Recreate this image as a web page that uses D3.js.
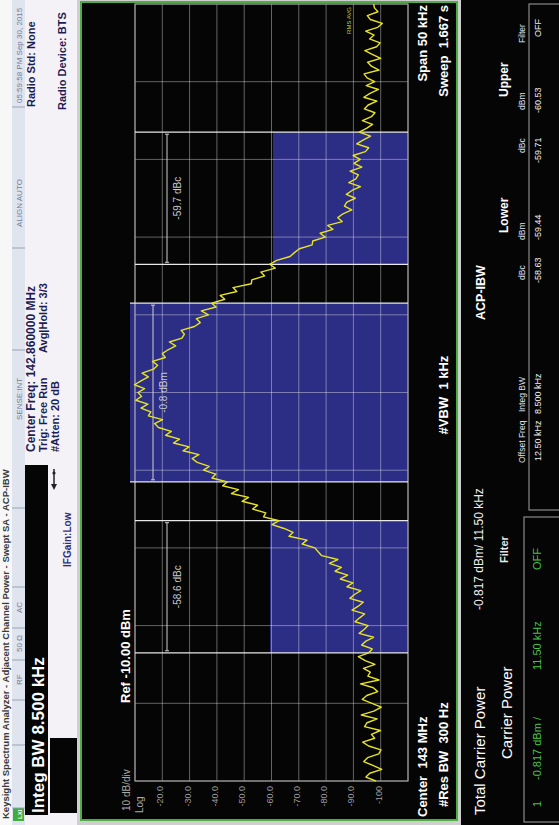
<!DOCTYPE html>
<html>
<head>
<meta charset="utf-8">
<script src="https://cdn.jsdelivr.net/npm/d3@7"></script>
<style>
  body { margin: 0; background: #cfcfcf; }
  svg { display: block; }
  text { font-family: "Liberation Sans", Arial, sans-serif; white-space: pre; }
</style>
</head>
<body>
<svg id="chart"></svg>
<script>
// sweep: 201 points over a 50 kHz span, offsets in kHz from centre
var spanStart = -25;
var spanStep = 0.25;
var traceLevels = [
  -98.2, -94.6, -96.0, -100.4, -97.1, -93.8, -95.2, -99.3, -100.1, -95.6,
  -93.4, -97.8, -96.6, -99.9, -94.1, -95.0, -98.7, -92.9, -97.5, -100.2,
  -96.8, -93.2, -94.9, -98.9, -97.3, -92.6, -99.4, -95.3, -96.2, -93.7,
  -97.9, -94.3, -91.8, -95.6, -96.9, -93.0, -94.6, -97.4, -92.1, -93.9,
  -95.4, -90.6, -92.3, -94.1, -89.5, -91.8, -93.6, -88.7, -90.4, -92.7,
  -87.6, -89.8, -85.2, -87.9, -83.3, -85.6, -81.2, -84.3, -78.4, -77.1,
  -75.9, -71.2, -73.0, -66.4, -67.9, -64.6, -60.2, -62.8, -57.1, -57.9,
  -53.1, -54.9, -49.2, -51.6, -45.3, -47.9, -42.1, -43.8, -38.2, -39.6,
  -35.1, -37.2, -32.8, -30.9, -33.4, -27.6, -29.8, -24.1, -26.3, -21.2,
  -23.3, -18.6, -17.2, -20.1, -14.9, -15.8, -12.2, -14.7, -10.3, -12.4,
  -11.1, -13.5, -9.8, -12.2, -14.9, -12.6, -16.8, -18.3, -16.4, -21.1,
  -20.0, -22.1, -24.9, -22.6, -27.2, -28.1, -26.9, -31.8, -33.9, -32.5,
  -36.9, -34.3, -39.7, -38.1, -42.9, -41.2, -47.3, -45.9, -52.6, -52.8,
  -57.5, -56.1, -61.4, -59.3, -61.9, -66.8, -68.4, -70.2, -74.9, -75.1,
  -79.7, -77.8, -82.5, -80.6, -85.9, -84.3, -86.2, -89.4, -86.7, -87.6,
  -90.7, -87.4, -89.5, -92.6, -88.3, -90.9, -91.8, -88.8, -93.1, -90.2,
  -92.5, -89.9, -94.4, -95.6, -91.2, -93.7, -96.3, -92.1, -94.8, -97.0,
  -93.3, -96.6, -97.9, -94.0, -95.4, -98.6, -93.8, -96.1, -99.2, -94.7,
  -97.8, -95.0, -93.9, -99.4, -96.6, -95.2, -100.0, -97.1, -94.2, -98.5,
  -99.8, -95.9, -97.6, -94.5, -98.9, -100.6, -96.2, -95.1, -99.0, -97.7,
  -97.4
];

// ACP integration bands
var bandCenters = [-12.5, 0, 12.5];
var bandWidths = [8.5, 11.5, 8.5];
var bandLevels = [-59.44, -0.817, -60.53];
var bandLabels = ['-58.6 dBc', '-0.8 dBm', '-59.7 dBc'];

var yTickValues = [-20, -30, -40, -50, -60, -70, -80, -90, -100];
var yTickLabels = ['-20.0', '-30.0', '-40.0', '-50.0', '-60.0', '-70.0', '-80.0', '-90.0', '-100'];

var statusCells = ['RF', '50 \u03a9', 'AC', 'SENSE:INT', 'ALIGN AUTO', '05:59:58 PM Sep 30, 2015'];

var tableHeaders = ['Offset Freq', 'Integ BW', 'dBc', 'dBm', 'dBc', 'dBm', 'Filter'];
var tableValues = ['12.50 kHz', '8.500 kHz', '-58.63', '-59.44', '-59.71', '-60.53', 'OFF'];

var svg, g;

document.addEventListener('DOMContentLoaded', function() {
  svg = d3.select('#chart').attr('width', 559).attr('height', 825);
  // the instrument screen is drawn upright (825 x 559) then turned a quarter left
  g = svg.append('g').attr('transform', 'translate(0,825) rotate(-90)');
  drawHeader();
  drawDisplay();
  drawTable();
});

function addText(parent, x, y, str, size, color, weight, anchor) {
  return parent.append('text')
    .attr('x', x)
    .attr('y', y)
    .attr('font-size', size + 'px')
    .attr('font-weight', weight || 'normal')
    .attr('text-anchor', anchor || 'start')
    .attr('fill', color)
    .text(str);
}

function drawHeader() {
  g.append('rect').attr('x', 0).attr('y', 0).attr('width', 825).attr('height', 12).attr('fill', '#f7f7f7');
  // window title strip
  addText(g, 6, 9, 'Keysight Spectrum Analyzer - Adjacent Channel Power - Swept SA - ACP-IBW', 9.5, '#3a3a3a', 'bold');

  g.append('rect').attr('x', 0).attr('y', 12).attr('width', 825).attr('height', 13).attr('fill', '#dfe4ee');
  g.append('rect').attr('x', 4).attr('y', 13).attr('width', 13).attr('height', 11).attr('fill', '#3fae3f');
  addText(g, 6, 22, 'LXI', 6, '#fff', 'bold');
  var seps = [17, 80, 125, 165, 197, 238, 317, 475, 577, 718];
  g.selectAll('.sep').data(seps).enter().append('line')
    .attr('x1', function(d) { return d; }).attr('x2', function(d) { return d; })
    .attr('y1', 12).attr('y2', 25)
    .attr('stroke', '#9aa3b5').attr('stroke-width', 1);
  var cellX = [140, 173, 212, 405, 598, 722];
  statusCells.forEach(function(s, i) {
    addText(g, cellX[i], 22, s, 8, '#6f7d9a');
  });

  g.append('rect').attr('x', 0).attr('y', 25).attr('width', 825).attr('height', 52).attr('fill', '#f4f2f7');
  g.append('rect').attr('x', 10).attr('y', 25).attr('width', 350).attr('height', 23).attr('fill', '#050505');
  addText(g, 12, 44, 'Integ BW 8.500 kHz', 17, '#fff', 'bold');
  g.append('rect').attr('x', 12).attr('y', 50).attr('width', 75).attr('height', 27).attr('fill', '#050505');
  addText(g, 258, 71, 'IFGain:Low', 10, '#33307a', 'bold');
  // small arrow glyph
  g.append('line').attr('x1', 337).attr('x2', 356).attr('y1', 54).attr('y2', 54).attr('stroke', '#222').attr('stroke-width', 1.5);
  g.append('path').attr('d', 'M335,54 L341,51 L341,57 Z').attr('fill', '#222');
  g.append('circle').attr('cx', 352).attr('cy', 54).attr('r', 1.6).attr('fill', '#222');

  var navy = '#1d1d55';
  addText(g, 373, 35, 'Center Freq: 142.860000 MHz', 12, navy, 'bold');
  addText(g, 373, 47, 'Trig: Free Run', 11, navy, 'bold');
  addText(g, 472, 47, 'Avg|Hold: 3/3', 11, navy, 'bold');
  addText(g, 373, 59, '#Atten: 20 dB', 11, navy, 'bold');
  addText(g, 718, 35, 'Radio Std: None', 11, navy, 'bold');
  addText(g, 715, 66, 'Radio Device: BTS', 11, navy, 'bold');
}

function drawDisplay() {
  g.append('rect').attr('x', 5).attr('y', 81).attr('width', 818).attr('height', 376)
    .attr('fill', '#050505').attr('stroke', '#4dae46').attr('stroke-width', 2);

  var x = d3.scaleLinear().domain([-25, 25]).range([44, 821]);
  var y = d3.scaleLinear().domain([-110, -10]).range([408, 135]);
  var gratTop = y(-10);

  // integration bands
  var bands = g.append('g');
  bandCenters.forEach(function(c, i) {
    var x0 = x(c - bandWidths[i] / 2);
    var x1 = x(c + bandWidths[i] / 2);
    var top = Math.max(y(bandLevels[i]), gratTop - 5);
    bands.append('rect')
      .attr('x', x0).attr('y', top)
      .attr('width', x1 - x0).attr('height', y(-110) - top)
      .attr('fill', '#2c2d84');
  });

  // graticule
  var grid = g.append('g');
  grid.selectAll('.vg').data(d3.range(-25, 25.1, 5)).enter().append('line')
    .attr('x1', function(d) { return x(d); }).attr('x2', function(d) { return x(d); })
    .attr('y1', gratTop).attr('y2', y(-110))
    .attr('stroke', '#fff').attr('stroke-opacity', 0.38).attr('stroke-width', 1);
  grid.selectAll('.hg').data(d3.range(-110, -9, 10)).enter().append('line')
    .attr('x1', x(-25)).attr('x2', x(25))
    .attr('y1', function(d) { return y(d); }).attr('y2', function(d) { return y(d); })
    .attr('stroke', '#fff').attr('stroke-opacity', 0.38).attr('stroke-width', 1);
  grid.append('rect').attr('x', x(-25)).attr('y', gratTop)
    .attr('width', x(25) - x(-25)).attr('height', y(-110) - gratTop)
    .attr('fill', 'none').attr('stroke', '#9a9a9a').attr('stroke-width', 1.2);

  // band edges, brackets and readouts
  bandCenters.forEach(function(c, i) {
    var x0 = x(c - bandWidths[i] / 2);
    var x1 = x(c + bandWidths[i] / 2);
    var top = Math.min(Math.max(y(bandLevels[i]), gratTop - 5), gratTop);
    [x0, x1].forEach(function(e) {
      g.append('line').attr('x1', e).attr('x2', e).attr('y1', top).attr('y2', y(-110))
        .attr('stroke', '#e8e8e8').attr('stroke-width', 1.3);
    });
    var by = i === 1 ? 153 : 167;
    g.append('line').attr('x1', x0 + 2).attr('x2', x1 - 2).attr('y1', by).attr('y2', by)
      .attr('stroke', '#d0d0d0').attr('stroke-width', 1);
    [x0 + 2, x1 - 2].forEach(function(e) {
      g.append('line').attr('x1', e).attr('x2', e).attr('y1', by - 2).attr('y2', by + 2)
        .attr('stroke', '#d0d0d0').attr('stroke-width', 1);
    });
    addText(g, x(c), by + 14, bandLabels[i], 10, '#c8c8c8', 'normal', 'middle');
  });

  // trace
  var line = d3.line()
    .x(function(d, i) { return x(spanStart + i * spanStep); })
    .y(function(d) { return y(d); });
  g.append('path').datum(traceLevels)
    .attr('d', line)
    .attr('fill', 'none')
    .attr('stroke', '#e6e423')
    .attr('stroke-width', 1.4)
    .attr('stroke-linejoin', 'round');
  addText(g, 818, 351, 'RMS AVG', 6, '#c9c83a', 'normal', 'end');

  // level axis
  yTickValues.forEach(function(v, i) {
    addText(g, 39, y(v) + 1, yTickLabels[i], 9, '#9c9c9c', 'normal', 'end');
  });
  addText(g, 14, 130, '10 dB/div', 10, '#a8a8a8');
  addText(g, 12, 143, 'Log', 10, '#a8a8a8');
  addText(g, 122, 130, 'Ref -10.00 dBm', 13, '#fff', 'bold');

  addText(g, 8, 427, 'Center  143 MHz', 13, '#fff', 'bold');
  addText(g, 18, 448, '#Res BW  300 Hz', 13, '#fff', 'bold');
  addText(g, 430, 448, '#VBW  1 kHz', 13, '#fff', 'bold', 'middle');
  addText(g, 820, 427, 'Span 50 kHz', 13, '#fff', 'bold', 'end');
  addText(g, 820, 448, 'Sweep  1.667 s', 13, '#fff', 'bold', 'end');
}

function drawTable() {
  g.append('rect').attr('x', 0).attr('y', 461).attr('width', 825).attr('height', 98).attr('fill', '#050505');
  addText(g, 10, 485, 'Total Carrier Power', 15, '#fff');
  addText(g, 215, 483, '-0.817 dBm/ 11.50 kHz', 12, '#f0f0f0');
  addText(g, 505, 485, 'ACP-IBW', 12.5, '#fff', 'bold');
  addText(g, 66, 512, 'Carrier Power', 15, '#fff');
  addText(g, 262, 508, 'Filter', 11, '#e8e8e8', 'bold');
  addText(g, 592, 508, 'Lower', 12, '#fff', 'bold');
  addText(g, 728, 508, 'Upper', 12, '#fff', 'bold');

  g.append('rect').attr('x', 3).attr('y', 524).attr('width', 305).attr('height', 45)
    .attr('fill', 'none').attr('stroke', '#8a8a8a').attr('stroke-width', 1.2);
  g.append('rect').attr('x', 315).attr('y', 529).attr('width', 506).attr('height', 40)
    .attr('fill', 'none').attr('stroke', '#8a8a8a').attr('stroke-width', 1.2);

  var hx = [362, 413, 545, 585, 672, 715, 782];
  tableHeaders.forEach(function(h, i) {
    addText(g, hx[i], 525, h, 8.5, '#dfe3f5');
  });
  var vx = [364, 411, 542, 585, 662, 712, 788];
  tableValues.forEach(function(v, i) {
    addText(g, vx[i], 541, v, 9, '#f0f0f0');
  });
  addText(g, 18, 541, '1', 11, '#44c844');
  addText(g, 45, 541, '-0.817 dBm /', 11, '#44c844');
  addText(g, 155, 541, '11.50 kHz', 11, '#44c844');
  addText(g, 255, 541, 'OFF', 11, '#44c844');
}
</script>
</body>
</html>
